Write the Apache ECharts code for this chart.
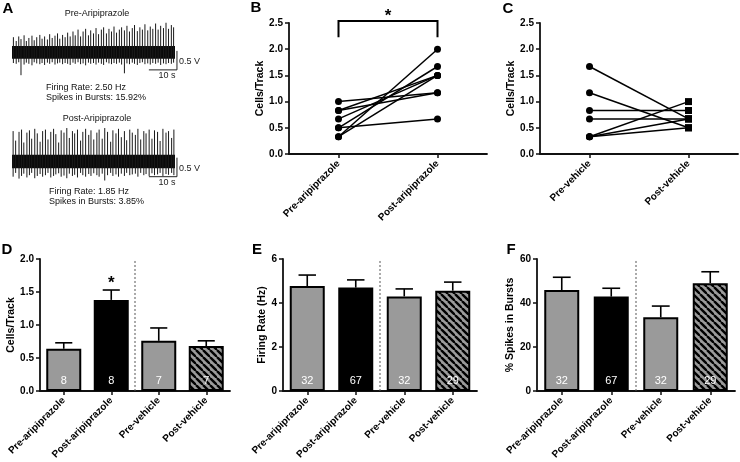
<!DOCTYPE html>
<html><head><meta charset="utf-8">
<script src="https://cdn.jsdelivr.net/npm/echarts@6/dist/echarts.min.js"></script>
<style>html,body{margin:0;padding:0;background:#fff}#c{width:740px;height:462px}</style>
</head><body><div id="c"></div>
<script>
// ================= DATA =================
// Panel A: extracellular traces (time in s, voltage in V)
const traceTimeMax = 58;
const traceTitles = ['Pre-Aripiprazole', 'Post-Aripiprazole'];
const traceRates = ['Firing Rate: 2.50 Hz', 'Firing Rate: 1.85 Hz'];
const traceBursts = ['Spikes in Bursts: 15.92%', 'Spikes in Bursts: 3.85%'];
const noiseHalf = [0.17, 0.18];
const preSpikeT = [0.5,1.5,2.4,3.2,4.3,5.1,6.0,7.1,7.9,8.8,9.9, 10.7,11.6,12.6,13.4,14.3,15.3,16.2,17.0,18.0,18.9,19.8, 20.7,21.7,22.5,23.5,24.4,25.3,26.2,27.2,28.0,29.0,29.9, 30.8,31.8,32.6,33.6,34.5,35.4,36.3,37.2,38.2,39.0, 40.0,40.9,41.8,42.8,43.6,44.6,45.5,46.4,47.3,48.3,49.2, 50.1,51.1,52.0,52.9,53.9,54.8,55.7,56.7,57.5];
const preSpikeUp = [0.40,0.30,0.42,0.35,0.45,0.30,0.38,0.44,0.32,0.40,0.46, 0.36,0.42,0.34,0.48,0.38,0.44,0.50,0.36,0.46,0.40,0.52, 0.42,0.55,0.45,0.60,0.42,0.55,0.62,0.45,0.58,0.50,0.64, 0.48,0.60,0.66,0.50,0.62,0.55,0.68,0.52,0.60,0.66, 0.58,0.70,0.55,0.64,0.72,0.56,0.66,0.60,0.74,0.58,0.68, 0.62,0.76,0.60,0.70,0.64,0.78,0.62,0.72,0.66];
const preSpikeDown = [-0.28,-0.30,-0.26,-0.60,-0.32,-0.27,-0.30,-0.34,-0.26,-0.29,-0.31, -0.28,-0.33,-0.27,-0.30,-0.26,-0.32,-0.29,-0.27,-0.31,-0.28,-0.30, -0.33,-0.27,-0.30,-0.26,-0.31,-0.29,-0.34,-0.27,-0.30,-0.28,-0.32, -0.27,-0.30,-0.33,-0.26,-0.29,-0.31,-0.28,-0.30,-0.27,-0.32, -0.55,-0.29,-0.31,-0.27,-0.30,-0.33,-0.28,-0.26,-0.31,-0.29,-0.32, -0.28,-0.30,-0.27,-0.33,-0.29,-0.31,-0.28,-0.30,-0.27];
const postSpikeT = [0.4,1.3,2.5,3.4,4.2,5.3,6.2,7.0,8.1,9.0,10.0, 10.9,11.9,12.8,13.8,14.8,15.6,16.6,17.5,18.5,19.5, 20.4,21.5,22.3,23.3,24.4,25.2,26.2,27.3,28.1,29.1, 30.2,31.0,32.1,33.0,34.0,35.1,35.9,37.0,37.9,38.9, 40.0,40.8,41.9,42.8,43.9,44.8,45.8,46.9,47.7,48.8, 49.8,50.7,51.8,52.7,53.7,54.8,55.7,56.8,57.6];
const postSpikeUp = [0.80,0.55,0.78,0.84,0.50,0.76,0.82,0.60,0.86,0.74,0.52, 0.80,0.84,0.58,0.78,0.86,0.72,0.50,0.82,0.76,0.88, 0.62,0.80,0.74,0.84,0.55,0.78,0.86,0.70,0.82,0.58, 0.76,0.84,0.60,0.88,0.78,0.52,0.82,0.74,0.86,0.64, 0.80,0.56,0.84,0.76,0.70,0.86,0.58,0.80,0.74,0.84, 0.60,0.82,0.78,0.54,0.86,0.76,0.80,0.62,0.84];
const postSpikeDown = [-0.40,-0.30,-0.45,-0.38,-0.32,-0.42,-0.36,-0.30,-0.44,-0.38,-0.33, -0.40,-0.36,-0.30,-0.42,-0.38,-0.34,-0.31,-0.40,-0.37,-0.44, -0.32,-0.38,-0.35,-0.42,-0.30,-0.36,-0.40,-0.33,-0.38,-0.31, -0.36,-0.40,-0.32,-0.50,-0.36,-0.30,-0.38,-0.34,-0.40,-0.32, -0.38,-0.30,-0.36,-0.34,-0.32,-0.40,-0.30,-0.36,-0.33,-0.38, -0.31,-0.36,-0.34,-0.30,-0.38,-0.33,-0.35,-0.30,-0.36];
const scaleBarT = [48.7, 58.7];          // 10 s
const preScaleV = [-0.46, 0.04];         // 0.5 V
const postScaleV = [-0.40, 0.10];        // 0.5 V
const scaleLabels = ['10 s', '0.5 V'];

// Panel B: cells/track, aripiprazole (paired)
const ariCats = ['Pre-aripiprazole', 'Post-aripiprazole'];
const ariPre  = [1.00, 0.83, 0.83, 0.67, 0.50, 0.50, 0.33, 0.33];
const ariPost = [1.17, 1.50, 1.17, 1.50, 1.67, 0.67, 2.00, 1.50];
// Panel C: cells/track, vehicle (paired)
const vehCats = ['Pre-vehicle', 'Post-vehicle'];
const vehPre  = [1.67, 1.17, 0.83, 0.67, 0.33, 0.33, 0.33];
const vehPost = [0.67, 0.50, 0.83, 0.67, 1.00, 0.67, 0.50];
const pairAxis = [0, 2.5, 0.5];

// Panels D-F
const barCats = ['Pre-aripiprazole', 'Post-aripiprazole', 'Pre-vehicle', 'Post-vehicle'];
const cellsMean = [0.64, 1.38, 0.76, 0.68];
const cellsSem  = [0.09, 0.15, 0.195, 0.08];
const cellsN    = [8, 8, 7, 7];
const cellsSig  = [0, 1, 0, 0];
const cellsAxis = [0, 2.0, 0.5];
const rateMean = [4.77, 4.70, 4.30, 4.56];
const rateSem  = [0.50, 0.35, 0.34, 0.39];
const rateN    = [32, 67, 32, 29];
const rateAxis = [0, 6, 2];
const burstMean = [45.9, 42.9, 33.5, 49.0];
const burstSem  = [5.8, 3.8, 5.1, 5.2];
const burstN    = [32, 67, 32, 29];
const burstAxis = [0, 60, 20];
const noSig = [0, 0, 0, 0];

// ================= STYLE / BUILD =================
const F = 'Liberation Sans, Arial, Helvetica, sans-serif';
const chart = echarts.init(document.getElementById('c'), null, {renderer: 'canvas'});

function hatch() {
  const c = document.createElement('canvas');
  c.width = 7; c.height = 7;
  const g = c.getContext('2d');
  g.fillStyle = '#9a9a9a'; g.fillRect(0, 0, 7, 7);
  g.strokeStyle = '#000'; g.lineWidth = 2.4;
  for (const o of [-7, 0, 7]) { g.beginPath(); g.moveTo(o, 0); g.lineTo(o + 7, 7); g.stroke(); }
  return {image: c, repeat: 'repeat'};
}
const barColors = ['#9a9a9a', '#000000', '#9a9a9a', hatch()];

const grids = [
  {left: 12, top: 22, width: 163, height: 53.2},
  {left: 12, top: 123.5, width: 163, height: 60.8},
  {left: 289, top: 23, width: 198, height: 131},
  {left: 540, top: 23, width: 198, height: 131},
  {left: 40, top: 259, width: 190, height: 132},
  {left: 283, top: 259, width: 194, height: 132},
  {left: 537, top: 259, width: 198, height: 132}
];
const axLine = {show: true, onZero: false, lineStyle: {color: '#111', width: 1.8}};
const axTick = {show: true, length: 4, lineStyle: {color: '#111', width: 1.5}};

function traceX(gi) { return {type: 'value', gridIndex: gi, min: 0, max: traceTimeMax, show: false}; }
function traceY(gi, min, max) { return {type: 'value', gridIndex: gi, min, max, show: false}; }
function catX(gi, cats) {
  return {type: 'category', gridIndex: gi, data: cats, axisLine: axLine,
    axisTick: Object.assign({alignWithLabel: true}, axTick),
    axisLabel: {interval: 0, rotate: 45, margin: 8, fontFamily: F, fontWeight: 'bold', fontSize: 10, color: '#000'}};
}
function valY(gi, ax, name, gap, dec) {
  return {type: 'value', gridIndex: gi, min: ax[0], max: ax[1], interval: ax[2],
    name, nameLocation: 'middle', nameGap: gap,
    nameTextStyle: {fontFamily: F, fontWeight: 'bold', fontSize: 10.5, color: '#000'},
    axisLine: axLine, axisTick: axTick, splitLine: {show: false},
    axisLabel: {margin: 6, fontFamily: F, fontWeight: 'bold', fontSize: 10, color: '#000', formatter: v => v.toFixed(dec)}};
}

const xAxis = [traceX(0), traceX(1), catX(2, ariCats), catX(3, vehCats), catX(4, barCats), catX(5, barCats), catX(6, barCats)];
const yAxis = [traceY(0, -0.6, 0.8), traceY(1, -0.6, 1.0),
  valY(2, pairAxis, 'Cells/Track', 17, 1), valY(3, pairAxis, 'Cells/Track', 20, 1),
  valY(4, cellsAxis, 'Cells/Track', 23, 1), valY(5, rateAxis, 'Firing Rate (Hz)', 15, 0),
  valY(6, burstAxis, '% Spikes in Bursts', 18, 0)];

const series = [];
// ---- Panel A traces ----
function traceSeries(gi, T, up, down, half, scaleV) {
  series.push({type: 'custom', xAxisIndex: gi, yAxisIndex: gi, silent: true,
    data: [[0, traceTimeMax, half]],
    renderItem: (p, api) => {
      const a = api.coord([api.value(0), api.value(2)]), b = api.coord([api.value(1), -api.value(2)]);
      return {type: 'rect', shape: {x: a[0], y: a[1], width: b[0] - a[0], height: b[1] - a[1]}, style: {fill: '#0a0a0a'}};
    }});
  series.push({type: 'custom', xAxisIndex: gi, yAxisIndex: gi, silent: true,
    data: T.map((t, i) => [t, up[i], down[i]]),
    renderItem: (p, api) => {
      const a = api.coord([api.value(0), api.value(1)]), b = api.coord([api.value(0), api.value(2)]);
      return {type: 'line', shape: {x1: a[0], y1: a[1], x2: b[0], y2: b[1]}, style: {stroke: '#1a1a1a', lineWidth: 1}};
    }});
  series.push({type: 'custom', xAxisIndex: gi, yAxisIndex: gi, silent: true, clip: false,
    data: [[scaleBarT[0], scaleBarT[1], scaleV[0], scaleV[1]]],
    renderItem: (p, api) => {
      const a = api.coord([api.value(0), api.value(2)]), b = api.coord([api.value(1), api.value(2)]), c = api.coord([api.value(1), api.value(3)]);
      return {type: 'group', children: [
        {type: 'polyline', shape: {points: [a, b, c]}, style: {stroke: '#222', lineWidth: 1, fill: null}},
        {type: 'text', x: (a[0] + b[0]) / 2 + 4, y: a[1] + 1, style: {text: scaleLabels[0], font: '9px ' + F, fill: '#222', align: 'center', verticalAlign: 'top'}},
        {type: 'text', x: b[0] + 2, y: (b[1] + c[1]) / 2 + 1, style: {text: scaleLabels[1], font: '9px ' + F, fill: '#222', align: 'left', verticalAlign: 'middle'}}
      ]};
    }});
}
traceSeries(0, preSpikeT, preSpikeUp, preSpikeDown, noiseHalf[0], preScaleV);
traceSeries(1, postSpikeT, postSpikeUp, postSpikeDown, noiseHalf[1], postScaleV);

// ---- Panels B, C paired lines ----
ariPre.forEach((v, i) => series.push({type: 'line', xAxisIndex: 2, yAxisIndex: 2, silent: true,
  data: [v, ariPost[i]], symbol: 'circle', symbolSize: 7,
  lineStyle: {color: '#000', width: 1.5}, itemStyle: {color: '#000'}}));
vehPre.forEach((v, i) => series.push({type: 'line', xAxisIndex: 3, yAxisIndex: 3, silent: true,
  data: [{value: v, symbol: 'circle'}, {value: vehPost[i], symbol: 'rect'}], symbolSize: 7,
  lineStyle: {color: '#000', width: 1.5}, itemStyle: {color: '#000'}}));
// significance bracket in B
series.push({type: 'custom', xAxisIndex: 2, yAxisIndex: 2, silent: true, clip: false,
  data: [[0, 1, 2.23, 2.54, 2.63]],
  renderItem: (p, api) => {
    const a = api.coord([0, api.value(2)]), b = api.coord([0, api.value(3)]);
    const c = api.coord([1, api.value(3)]), d = api.coord([1, api.value(2)]);
    const s = api.coord([0.5, api.value(4)]);
    return {type: 'group', children: [
      {type: 'polyline', shape: {points: [a, b, c, d]}, style: {stroke: '#000', lineWidth: 2, fill: null}},
      {type: 'text', x: (b[0] + c[0]) / 2, y: s[1], style: {text: '*', font: 'bold 17px ' + F, fill: '#000', align: 'center', verticalAlign: 'middle'}}
    ]};
  }});

// ---- Panels D, E, F bars ----
function barPanel(gi, mean, sem, n, sig, ax) {
  series.push({type: 'bar', xAxisIndex: gi, yAxisIndex: gi, silent: true, barWidth: 35,
    data: mean.map((m, i) => ({value: m, itemStyle: {color: barColors[i], borderColor: '#000', borderWidth: 2}})),
    label: {show: true, position: 'insideBottom', distance: 5, color: '#fff', fontFamily: F, fontSize: 11,
      formatter: p => String(n[p.dataIndex])}});
  series.push({type: 'custom', xAxisIndex: gi, yAxisIndex: gi, silent: true, clip: false, z: 3,
    data: mean.map((m, i) => [i, m, sem[i], sig[i]]),
    renderItem: (p, api) => {
      const x = api.value(0), m = api.value(1), s = api.value(2);
      const p0 = api.coord([x, m]), p1 = api.coord([x, m + s]);
      const cap = api.size([1, 0])[0] * 0.18;
      const ch = [
        {type: 'line', shape: {x1: p0[0], y1: p0[1], x2: p1[0], y2: p1[1]}, style: {stroke: '#000', lineWidth: 1.6}},
        {type: 'line', shape: {x1: p1[0] - cap, y1: p1[1], x2: p1[0] + cap, y2: p1[1]}, style: {stroke: '#000', lineWidth: 1.6}}
      ];
      if (api.value(3)) ch.push({type: 'text', x: p1[0], y: p1[1] - 7, style: {text: '*', font: 'bold 17px ' + F, fill: '#000', align: 'center', verticalAlign: 'middle'}});
      return {type: 'group', children: ch};
    }});
  series.push({type: 'custom', xAxisIndex: gi, yAxisIndex: gi, silent: true,
    data: [[1, 2, ax[0], ax[1]]],
    renderItem: (p, api) => {
      const a = api.coord([api.value(0), api.value(2)]), b = api.coord([api.value(1), api.value(3)]);
      const x = (a[0] + b[0]) / 2;
      return {type: 'line', shape: {x1: x, y1: a[1], x2: x, y2: b[1]}, style: {stroke: '#555', lineWidth: 1, lineDash: [2, 2]}};
    }});
}
barPanel(4, cellsMean, cellsSem, cellsN, cellsSig, cellsAxis);
barPanel(5, rateMean, rateSem, rateN, noSig, rateAxis);
barPanel(6, burstMean, burstSem, burstN, noSig, burstAxis);

// ---- Text annotations ----
const letter = (t, x, y) => ({type: 'text', x, y, style: {text: t, font: 'bold 15px ' + F, fill: '#000', align: 'center', verticalAlign: 'middle'}});
const small = (t, x, y, align) => ({type: 'text', x, y, style: {text: t, font: '9px ' + F, fill: '#111', align: align, verticalAlign: 'middle'}});
const graphic = [
  letter('A', 8, 9), letter('B', 256, 8), letter('C', 508, 9),
  letter('D', 7, 250), letter('E', 257, 250), letter('F', 511, 250),
  small(traceTitles[0], 97, 14, 'center'), small(traceRates[0], 46, 88, 'left'), small(traceBursts[0], 46, 98, 'left'),
  small(traceTitles[1], 97, 119, 'center'), small(traceRates[1], 49, 192, 'left'), small(traceBursts[1], 49, 202, 'left')
];

chart.setOption({animation: false, backgroundColor: '#fff', grid: grids, xAxis, yAxis, series, graphic});
</script></body></html>
